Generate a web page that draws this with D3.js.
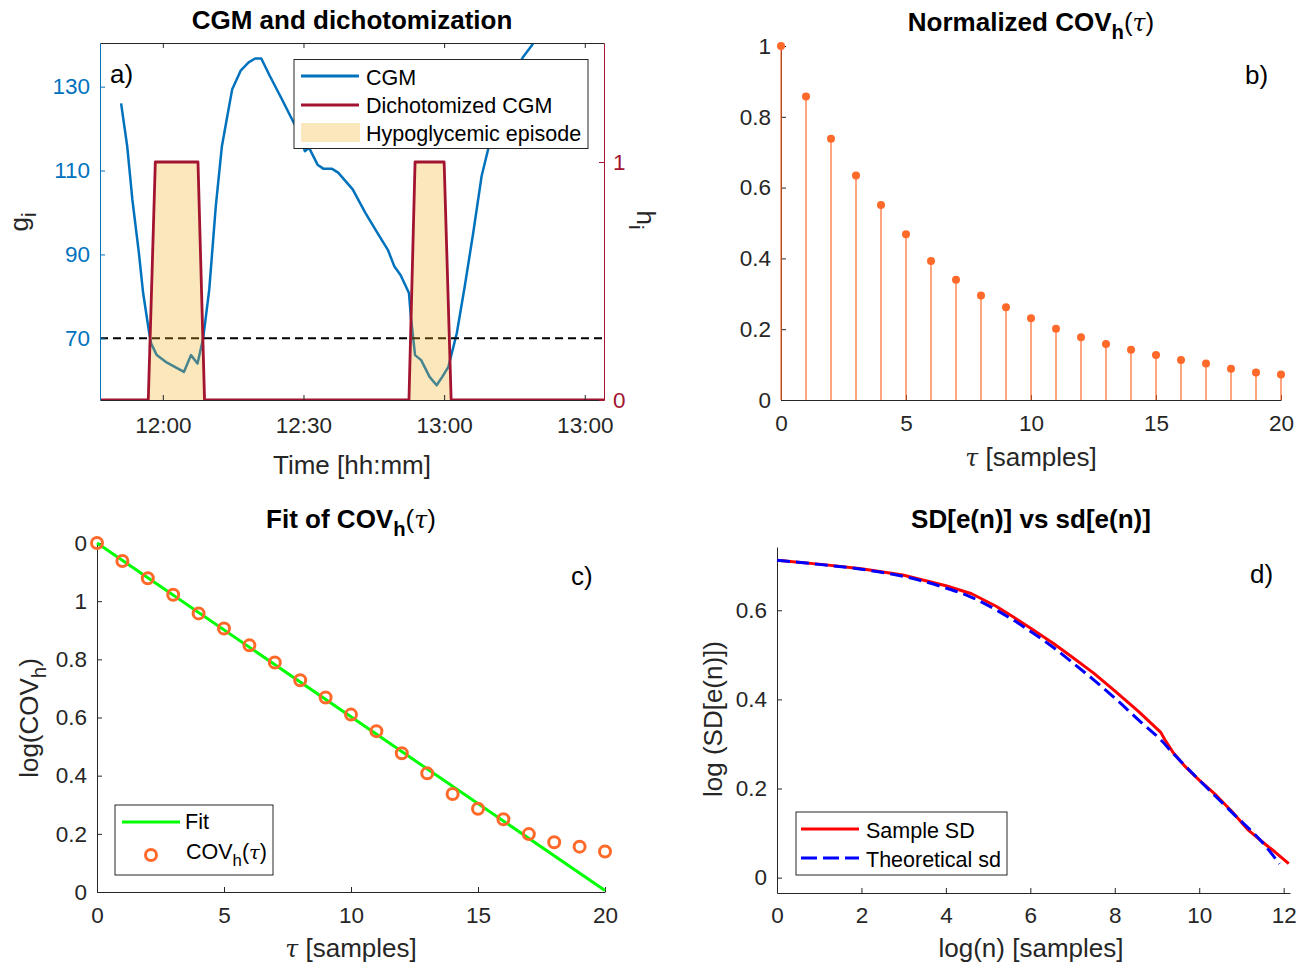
<!DOCTYPE html>
<html>
<head>
<meta charset="utf-8">
<script src="https://cdn.jsdelivr.net/npm/d3@7"></script>
<style>
  html, body { margin: 0; padding: 0; background: #fff; }
  svg { display: block; }
  text { font-family: "Liberation Sans", Arial, Helvetica, sans-serif; }
</style>
</head>
<body>
<svg id="fig" width="1309" height="967"></svg>
<script>
// ---- Panel a: CGM trace (minutes relative to 12:00, mg/dL) ----
const cgmTime  = [-8.9, -7.6, -6.5, -5.1, -4.2, -2.9, -2.5, -1.3, 0.6, 4.5, 6.0, 7.4, 8.6, 9.9, 11.3, 12.6, 13.5, 14.8, 16.6, 18.3, 19.7, 21.0, 22.8, 25.4, 27.2, 29.0, 30.3, 31.2, 33.0, 34.3, 36.1, 37.4, 40.5, 43.2, 45.8, 48.0, 49.4, 50.7, 52.5, 52.9, 53.8, 55.1, 56.9, 58.4, 59.6, 60.9, 62.7, 64.4, 66.2, 68.0, 70.6, 73.3, 75.1, 76.8, 78.6, 80.0];
const cgmValue = [126.0, 115.8, 103.1, 90.3, 80.8, 71.2, 68.8, 66.0, 64.4, 62.0, 66.0, 64.0, 70.0, 81.6, 101.5, 115.8, 121.4, 129.4, 133.8, 135.8, 136.7, 136.7, 132.6, 127.0, 123.0, 119.0, 114.6, 115.4, 111.4, 110.4, 110.4, 109.5, 105.5, 99.9, 95.1, 91.1, 87.1, 85.1, 80.8, 75.2, 66.0, 64.8, 60.8, 58.8, 60.8, 63.2, 71.2, 82.4, 95.1, 108.7, 120.6, 128.6, 133.4, 137.0, 139.7, 142.0];
// dichotomized signal h_i
const dichoTime  = [-13.4, -3.1, -1.6, 7.5, 8.9, 52.5, 53.8, 60.0, 61.5, 94.1];
const dichoValue = [0, 0, 1, 1, 0, 0, 1, 1, 0, 0];
const hypoThreshold = 70;
const timeTickValues = [0, 30, 60, 90];
const timeTickLabels = ["12:00", "12:30", "13:00", "13:00"];
const glucoseTicks = [70, 90, 110, 130];
const dichoTicks = [0, 1];

// ---- Panel b: normalized autocovariance ----
const lagSamples = [0, 1, 2, 3, 4, 5, 6, 7, 8, 9, 10, 11, 12, 13, 14, 15, 16, 17, 18, 19, 20];
const covNormalized = [1.0, 0.857, 0.738, 0.634, 0.551, 0.468, 0.393, 0.340, 0.295, 0.262, 0.231, 0.201, 0.177, 0.158, 0.142, 0.127, 0.113, 0.103, 0.088, 0.078, 0.072];

// ---- Panel c: log autocovariance and its linear fit ----
const logCov = [1.2, 1.138, 1.079, 1.022, 0.958, 0.906, 0.848, 0.789, 0.728, 0.669, 0.610, 0.553, 0.477, 0.408, 0.337, 0.286, 0.250, 0.199, 0.171, 0.156, 0.139];
const fitLag = [0, 20];
const fitValue = [1.2, 0.005];
const logCovTickValues = [0, 0.2, 0.4, 0.6, 0.8, 1.0, 1.2];
const logCovTickLabels = ["0", "0.2", "0.4", "0.6", "0.8", "1", "0"];

// ---- Panel d: sample vs theoretical SD ----
const sampleLogN = [0, 1.05, 2, 2.98, 4, 4.61, 5.19, 5.58, 6, 6.54, 7.02, 7.5, 8, 8.56, 9.09, 9.19, 9.38, 9.67, 10, 10.4, 10.78, 11.17, 11.55, 11.79, 12.12];
const sampleSD   = [0.7125, 0.703, 0.693, 0.679, 0.655, 0.637, 0.609, 0.586, 0.560, 0.526, 0.493, 0.459, 0.419, 0.373, 0.326, 0.309, 0.281, 0.249, 0.219, 0.185, 0.148, 0.106, 0.076, 0.058, 0.0315];
const theoLogN   = [0, 1, 2, 3, 4, 4.61, 5.19, 5.58, 6, 6.54, 7.02, 7.5, 8, 8.56, 9.09, 9.38, 10, 10.78, 11.55, 11.9];
const theoSD     = [0.7125, 0.703, 0.692, 0.676, 0.650, 0.629, 0.601, 0.579, 0.553, 0.517, 0.481, 0.444, 0.403, 0.354, 0.309, 0.279, 0.219, 0.146, 0.073, 0.031];
const sdXTicks = [0, 2, 4, 6, 8, 10, 12];
const sdYTicks = [0, 0.2, 0.4, 0.6];

// ---- styling ----
const AX = "#262626";
const BLUE = "#0072BD";
const DARKRED = "#A2142F";
const ORANGE = "#FF6929";
const TICK_FS = 22.5;
const LABEL_FS = 26;
const TITLE_FS = 26;
const LEGEND_FS = 21.5;

const svg = d3.select("#fig");

// text with sub-scripts / italic parts
function rich(sel, parts, size) {
  let shift = 0;
  parts.forEach(p => {
    const ts = sel.append("tspan").text(p.t);
    const target = p.sub ? size * 0.32 : 0;
    if (target !== shift) { ts.attr("dy", target - shift); shift = target; }
    if (p.sub) ts.attr("font-size", size * 0.78);
    if (p.plain) ts.attr("font-weight", "normal");
    if (p.it) ts.attr("font-style", "italic").attr("font-weight", "normal")
      .attr("font-family", "'DejaVu Serif', serif").attr("font-size", size * 0.9);
  });
  return sel;
}
function addText(parent, x, y, parts, opt) {
  const t = parent.append("text")
    .attr("x", x).attr("y", y)
    .attr("font-size", opt.size)
    .attr("fill", opt.fill || AX)
    .attr("text-anchor", opt.anchor || "middle")
    .attr("font-weight", opt.bold ? "bold" : null);
  if (opt.rotate) t.attr("transform", `rotate(${opt.rotate},${x},${y})`);
  if (typeof parts === "string") t.text(parts); else rich(t, parts, opt.size);
  return t;
}
function styleAxis(g, color, size) {
  g.select(".domain").attr("stroke", color).attr("stroke-width", 1);
  g.selectAll(".tick line").attr("stroke", color).attr("stroke-width", 1);
  g.selectAll(".tick text").attr("fill", color).attr("font-size", size)
    .attr("font-family", "'Liberation Sans', Arial, sans-serif");
}
const covTitle = (lead) => [{ t: lead }, { t: "h", sub: true }, { t: "(", plain: true }, { t: "τ", it: true }, { t: ")", plain: true }];

// =============== Panel a ===============
{
  const x = d3.scaleLinear().domain([-13.4, 94.1]).range([100, 604]);
  const yL = d3.scaleLinear().domain([55.3, 140.4]).range([400, 43]);
  const yR = d3.scaleLinear().domain([0, 1.5]).range([400, 43]);
  const g = svg.append("g");

  g.append("clipPath").attr("id", "clipA").append("rect")
    .attr("x", 100).attr("y", 43).attr("width", 504).attr("height", 357);
  const plot = g.append("g").attr("clip-path", "url(#clipA)");

  const cgm = cgmTime.map((t, i) => [t, cgmValue[i]]);
  plot.append("path")
    .attr("d", d3.line().x(d => x(d[0])).y(d => yL(d[1]))(cgm))
    .attr("fill", "none").attr("stroke", BLUE).attr("stroke-width", 2.5).attr("stroke-linejoin", "round");

  plot.append("line")
    .attr("x1", 100).attr("x2", 604).attr("y1", yL(hypoThreshold)).attr("y2", yL(hypoThreshold))
    .attr("stroke", "#000").attr("stroke-width", 2).attr("stroke-dasharray", "8,5");

  const dicho = dichoTime.map((t, i) => [t, dichoValue[i]]);
  plot.append("path")
    .attr("d", d3.area().x(d => x(d[0])).y0(yR(0)).y1(d => yR(d[1]))(dicho))
    .attr("fill", "#EDB120").attr("fill-opacity", 0.3);
  plot.append("path")
    .attr("d", d3.line().x(d => x(d[0])).y(d => yR(d[1]))(dicho))
    .attr("fill", "none").attr("stroke", DARKRED).attr("stroke-width", 2.8).attr("stroke-linejoin", "round");

  const fmtT = d => timeTickLabels[timeTickValues.indexOf(d)];
  const bx = g.append("g").attr("transform", "translate(0,400)")
    .call(d3.axisBottom(x).tickValues(timeTickValues).tickFormat(fmtT).tickSizeInner(-5).tickSizeOuter(0).tickPadding(17));
  styleAxis(bx, AX, TICK_FS);
  const tx = g.append("g").attr("transform", "translate(0,43)")
    .call(d3.axisTop(x).tickValues(timeTickValues).tickFormat("").tickSizeInner(-5).tickSizeOuter(0));
  styleAxis(tx, AX, TICK_FS);
  const ly = g.append("g").attr("transform", "translate(100,0)")
    .call(d3.axisLeft(yL).tickValues(glucoseTicks).tickSizeInner(-5).tickSizeOuter(0).tickPadding(10));
  styleAxis(ly, BLUE, TICK_FS);
  const ry = g.append("g").attr("transform", "translate(604,0)")
    .call(d3.axisRight(yR).tickValues(dichoTicks).tickFormat(d3.format("~g")).tickSizeInner(-5).tickSizeOuter(0).tickPadding(9));
  styleAxis(ry, DARKRED, TICK_FS);

  addText(g, 352, 29, "CGM and dichotomization", { size: TITLE_FS, bold: true, fill: "#000" });
  addText(g, 352, 474, "Time [hh:mm]", { size: LABEL_FS });
  addText(g, 28, 222, [{ t: "g" }, { t: "i", sub: true }], { size: LABEL_FS, rotate: -90 });
  addText(g, 637, 220, [{ t: "h" }, { t: "i", sub: true }], { size: LABEL_FS, rotate: 90 });
  addText(g, 110, 83, "a)", { size: LABEL_FS, anchor: "start", fill: "#000" });

  // legend
  const lg = g.append("g");
  lg.append("rect").attr("x", 294).attr("y", 59.5).attr("width", 294).attr("height", 89)
    .attr("fill", "#fff").attr("stroke", AX).attr("stroke-width", 1);
  lg.append("line").attr("x1", 301).attr("x2", 359).attr("y1", 76).attr("y2", 76)
    .attr("stroke", BLUE).attr("stroke-width", 3);
  lg.append("line").attr("x1", 301).attr("x2", 359).attr("y1", 105).attr("y2", 105)
    .attr("stroke", DARKRED).attr("stroke-width", 3);
  lg.append("rect").attr("x", 301).attr("y", 123).attr("width", 59).attr("height", 19)
    .attr("fill", "#EDB120").attr("fill-opacity", 0.3);
  addText(lg, 366, 85, "CGM", { size: LEGEND_FS, anchor: "start", fill: "#000" });
  addText(lg, 366, 113, "Dichotomized CGM", { size: LEGEND_FS, anchor: "start", fill: "#000" });
  addText(lg, 366, 141, "Hypoglycemic episode", { size: LEGEND_FS, anchor: "start", fill: "#000" });
}

// =============== Panel b ===============
{
  const x = d3.scaleLinear().domain([0, 20]).range([781, 1281]);
  const y = d3.scaleLinear().domain([0, 1]).range([400, 46]);
  const g = svg.append("g");

  const bx = g.append("g").attr("transform", "translate(0,400)")
    .call(d3.axisBottom(x).tickValues([0, 5, 10, 15, 20]).tickSizeInner(-5).tickSizeOuter(0).tickPadding(15));
  styleAxis(bx, AX, TICK_FS);
  const ly = g.append("g").attr("transform", "translate(781,0)")
    .call(d3.axisLeft(y).tickValues([0, 0.2, 0.4, 0.6, 0.8, 1]).tickFormat(d3.format("~g")).tickSizeInner(-5).tickSizeOuter(0).tickPadding(10));
  styleAxis(ly, AX, TICK_FS);

  const pts = lagSamples.map((t, i) => [t, covNormalized[i]]);
  g.selectAll(".stem").data(pts).join("line")
    .attr("x1", d => x(d[0])).attr("x2", d => x(d[0]))
    .attr("y1", y(0)).attr("y2", d => y(d[1]))
    .attr("stroke", ORANGE).attr("stroke-width", 1.2);
  g.selectAll(".dot").data(pts).join("circle")
    .attr("cx", d => x(d[0])).attr("cy", d => y(d[1])).attr("r", 4)
    .attr("fill", ORANGE);

  addText(g, 1031, 31, covTitle("Normalized COV"), { size: TITLE_FS, bold: true, fill: "#000" });
  addText(g, 1031, 466, [{ t: "τ", it: true }, { t: " [samples]" }], { size: LABEL_FS });
  addText(g, 1245, 84, "b)", { size: LABEL_FS, anchor: "start", fill: "#000" });
}

// =============== Panel c ===============
{
  const x = d3.scaleLinear().domain([0, 20]).range([97, 605]);
  const y = d3.scaleLinear().domain([0, 1.2]).range([892, 543]);
  const g = svg.append("g");

  const bx = g.append("g").attr("transform", "translate(0,892)")
    .call(d3.axisBottom(x).tickValues([0, 5, 10, 15, 20]).tickSizeInner(-5).tickSizeOuter(0).tickPadding(15));
  styleAxis(bx, AX, TICK_FS);
  const ly = g.append("g").attr("transform", "translate(97,0)")
    .call(d3.axisLeft(y).tickValues(logCovTickValues).tickFormat((d, i) => logCovTickLabels[i]).tickSizeInner(-5).tickSizeOuter(0).tickPadding(10));
  styleAxis(ly, AX, TICK_FS);

  const fit = fitLag.map((t, i) => [t, fitValue[i]]);
  g.append("path").attr("d", d3.line().x(d => x(d[0])).y(d => y(d[1]))(fit))
    .attr("stroke", "#00FF00").attr("stroke-width", 3).attr("fill", "none");
  const pts = lagSamples.map((t, i) => [t, logCov[i]]);
  g.selectAll(".mk").data(pts).join("circle")
    .attr("cx", d => x(d[0])).attr("cy", d => y(d[1])).attr("r", 5.5)
    .attr("fill", "none").attr("stroke", ORANGE).attr("stroke-width", 3);

  addText(g, 351, 528, covTitle("Fit of COV"), { size: TITLE_FS, bold: true, fill: "#000" });
  addText(g, 351, 957, [{ t: "τ", it: true }, { t: " [samples]" }], { size: LABEL_FS });
  addText(g, 38, 718, [{ t: "log(COV" }, { t: "h", sub: true }, { t: ")" }], { size: LABEL_FS, rotate: -90 });
  addText(g, 571, 585, "c)", { size: LABEL_FS, anchor: "start", fill: "#000" });

  const lg = g.append("g");
  lg.append("rect").attr("x", 115).attr("y", 805).attr("width", 158).attr("height", 70)
    .attr("fill", "#fff").attr("stroke", AX).attr("stroke-width", 1);
  lg.append("line").attr("x1", 122).attr("x2", 180).attr("y1", 822).attr("y2", 822)
    .attr("stroke", "#00FF00").attr("stroke-width", 3);
  lg.append("circle").attr("cx", 151).attr("cy", 855).attr("r", 5.5)
    .attr("fill", "none").attr("stroke", ORANGE).attr("stroke-width", 3);
  addText(lg, 185, 829, "Fit", { size: LEGEND_FS, anchor: "start", fill: "#000" });
  addText(lg, 186, 859, [{ t: "COV" }, { t: "h", sub: true }, { t: "(" }, { t: "τ", it: true }, { t: ")" }],
    { size: LEGEND_FS, anchor: "start", fill: "#000" });
}

// =============== Panel d ===============
{
  const x = d3.scaleLinear().domain([0, 12.15]).range([777, 1290]);
  const y = d3.scaleLinear().domain([-0.0345, 0.742]).range([893, 547]);
  const g = svg.append("g");

  const bx = g.append("g").attr("transform", "translate(0,893)")
    .call(d3.axisBottom(x).tickValues(sdXTicks).tickSizeInner(-5).tickSizeOuter(0).tickPadding(14));
  styleAxis(bx, AX, TICK_FS);
  const ly = g.append("g").attr("transform", "translate(777,0)")
    .call(d3.axisLeft(y).tickValues(sdYTicks).tickFormat(d3.format("~g")).tickSizeInner(-5).tickSizeOuter(0).tickPadding(10));
  styleAxis(ly, AX, TICK_FS);

  const samp = sampleLogN.map((t, i) => [t, sampleSD[i]]);
  const theo = theoLogN.map((t, i) => [t, theoSD[i]]);
  g.append("path").attr("d", d3.line().x(d => x(d[0])).y(d => y(d[1]))(samp))
    .attr("stroke", "#FF0000").attr("stroke-width", 3).attr("fill", "none").attr("stroke-linejoin", "round");
  g.append("path").attr("d", d3.line().curve(d3.curveMonotoneX).x(d => x(d[0])).y(d => y(d[1]))(theo))
    .attr("stroke", "#0000FF").attr("stroke-width", 3).attr("fill", "none").attr("stroke-dasharray", "13,6");

  addText(g, 1031, 528, "SD[e(n)] vs sd[e(n)]", { size: TITLE_FS, bold: true, fill: "#000" });
  addText(g, 1031, 957, "log(n) [samples]", { size: LABEL_FS });
  addText(g, 722, 719, "log (SD[e(n)])", { size: LABEL_FS, rotate: -90 });
  addText(g, 1250, 583, "d)", { size: LABEL_FS, anchor: "start", fill: "#000" });

  const lg = g.append("g");
  lg.append("rect").attr("x", 796).attr("y", 812).attr("width", 211).attr("height", 63)
    .attr("fill", "#fff").attr("stroke", AX).attr("stroke-width", 1);
  lg.append("line").attr("x1", 801).attr("x2", 859).attr("y1", 829).attr("y2", 829)
    .attr("stroke", "#FF0000").attr("stroke-width", 3);
  lg.append("line").attr("x1", 801).attr("x2", 859).attr("y1", 858).attr("y2", 858)
    .attr("stroke", "#0000FF").attr("stroke-width", 3).attr("stroke-dasharray", "16,6");
  addText(lg, 866, 838, "Sample SD", { size: LEGEND_FS, anchor: "start", fill: "#000" });
  addText(lg, 866, 867, "Theoretical sd", { size: LEGEND_FS, anchor: "start", fill: "#000" });
}
</script>
</body>
</html>
